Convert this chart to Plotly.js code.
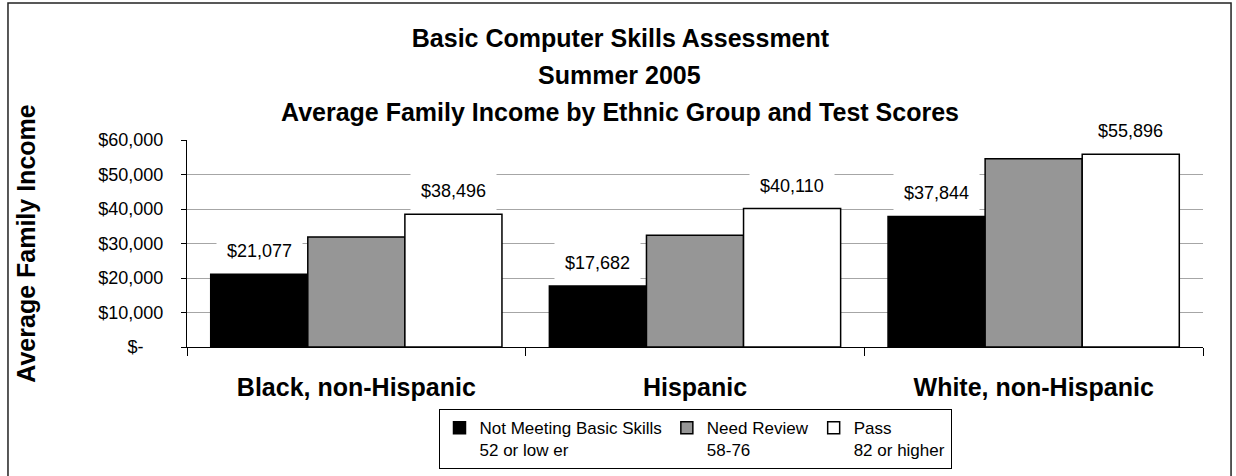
<!DOCTYPE html>
<html>
<head>
<meta charset="utf-8">
<script src="https://cdn.plot.ly/plotly-3.0.1.min.js"></script>
<style>html,body{margin:0;padding:0;background:#fff;}#chart{width:1236px;height:476px;}</style>
</head>
<body>
<div id="chart"></div>
<script>
// ---- data ----
var categories = ['Black, non-Hispanic', 'Hispanic', 'White, non-Hispanic'];
var seriesNames = ['Not Meeting Basic Skills<br>52 or low er', 'Need Review<br>58-76', 'Pass<br>82 or higher'];
var notMeeting = [21077, 17682, 37844];
var needReview = [31900, 32400, 54600];
var passScores = [38496, 40110, 55896];
var seriesColors = ['#000000', '#969696', '#ffffff'];
var seriesLabeled = [true, false, true];
var yTickVals = [0, 10000, 20000, 30000, 40000, 50000, 60000];
var yTickText = ['$-\u00a0\u00a0\u00a0\u00a0', '$10,000', '$20,000', '$30,000', '$40,000', '$50,000', '$60,000'];
var titleLines = ['Basic Computer Skills Assessment', 'Summer 2005', 'Average Family Income by Ethnic Group and Test Scores'];
var yTitle = 'Average Family Income';

// ---- build ----
var FONT = 'Liberation Sans, Arial, Helvetica, sans-serif';
var seriesValues = [notMeeting, needReview, passScores];
var BARGAP = 0.14;
var nSeries = seriesValues.length;
var barW = (1 - BARGAP) / nSeries;

var traces = seriesValues.map(function (vals, s) {
  return {
    type: 'bar',
    name: seriesNames[s],
    x: categories,
    y: vals,
    marker: { color: seriesColors[s], line: { color: '#000000', width: 1.5 } },
    hoverinfo: 'x+y'
  };
});

function money(v) { return '$' + v.toLocaleString('en-US'); }

var annotations = [];
seriesValues.forEach(function (vals, s) {
  if (!seriesLabeled[s]) return;
  vals.forEach(function (v, i) {
    annotations.push({
      xref: 'x', yref: 'y',
      x: i + (s - (nSeries - 1) / 2) * barW,
      y: v,
      text: money(v),
      showarrow: false,
      xanchor: 'center', yanchor: 'bottom', yshift: 2,
      bgcolor: '#ffffff', borderpad: 10,
      font: { family: FONT, size: 18, color: '#000000' }
    });
  });
});
// subtitle lines
[titleLines[1], titleLines[2]].forEach(function (t, k) {
  annotations.push({
    xref: 'paper', yref: 'paper',
    x: 0.426, y: [1.314, 1.135][k],
    xanchor: 'center', yanchor: 'middle',
    text: '<b>' + t + '</b>', showarrow: false,
    font: { family: FONT, size: 25, color: '#000000' }
  });
});

var layout = {
  width: 1236, height: 476,
  margin: { l: 187, r: 33, t: 140, b: 129, autoexpand: false },
  paper_bgcolor: '#ffffff', plot_bgcolor: '#ffffff',
  font: { family: FONT, color: '#000000' },
  title: {
    text: '<b>' + titleLines[0] + '</b>',
    xref: 'container', x: 0.502, xanchor: 'center',
    yref: 'container', y: 1 - 38 / 476, yanchor: 'middle',
    font: { family: FONT, size: 25, color: '#000000' }
  },
  barmode: 'group', bargap: BARGAP, bargroupgap: 0,
  xaxis: {
    type: 'category',
    showline: true, linecolor: '#000000', linewidth: 1,
    ticks: 'outside', tickson: 'boundaries', ticklen: 8, tickcolor: '#000000',
    ticklabelstandoff: 18,
    tickfont: { family: FONT, size: 25, color: '#000000', weight: 'bold' },
    showgrid: false, zeroline: false, fixedrange: true
  },
  yaxis: {
    range: [0, 60000],
    tickmode: 'array', tickvals: yTickVals, ticktext: yTickText,
    showline: true, linecolor: '#000000', linewidth: 1,
    ticks: 'outside', ticklen: 5, tickcolor: '#000000',
    ticklabelstandoff: 14,
    tickfont: { family: FONT, size: 18, color: '#000000' },
    showgrid: true, gridcolor: '#a6a6a6', gridwidth: 1,
    zeroline: false, fixedrange: true,
    title: { text: '<b>' + yTitle + '</b>', standoff: 55, font: { family: FONT, size: 25, color: '#000000' } }
  },
  showlegend: true,
  legend: {
    orientation: 'h',
    x: 0.5, xanchor: 'center', xref: 'paper',
    y: -0.30, yanchor: 'top',
    bgcolor: '#ffffff', bordercolor: '#000000', borderwidth: 1,
    valign: 'top', traceorder: 'normal',
    font: { family: FONT, size: 17, color: '#000000' }
  },
  annotations: annotations,
  shapes: [{
    type: 'rect', xref: 'paper', yref: 'paper',
    x0: -0.1762, x1: 1.0276, y0: -0.70, y1: 1.662,
    line: { color: '#222222', width: 1.5 }, fillcolor: 'rgba(0,0,0,0)', layer: 'below'
  }]
};

Plotly.newPlot('chart', traces, layout, { displayModeBar: false, staticPlot: true });
</script>
</body>
</html>
